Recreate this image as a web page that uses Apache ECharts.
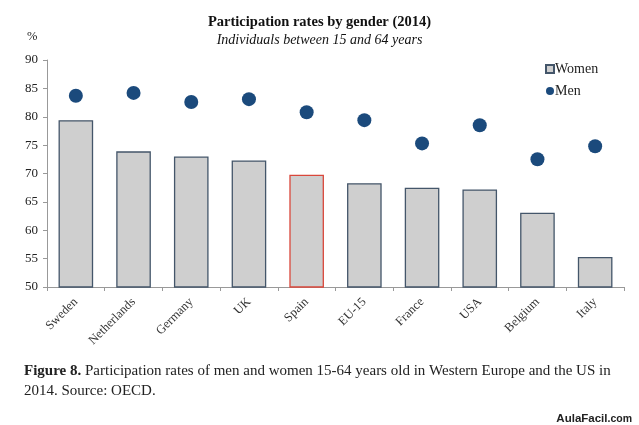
<!DOCTYPE html>
<html><head><meta charset="utf-8">
<script src="https://cdn.jsdelivr.net/npm/echarts@6/dist/echarts.min.js"></script>
<style>html,body{margin:0;padding:0;background:#fff}#c{width:639px;height:425px}</style>
</head><body><div id="c"></div>
<script>
const categories = ['Sweden','Netherlands','Germany','UK','Spain','EU-15','France','USA','Belgium','Italy'];
const women = [79.4, 73.9, 73.0, 72.3, 69.8, 68.3, 67.5, 67.2, 63.1, 55.3];
const men = [83.7, 84.2, 82.6, 83.1, 80.8, 79.4, 75.3, 78.5, 72.5, 74.8];
const yTicks = [50, 55, 60, 65, 70, 75, 80, 85, 90];
const highlight = 'Spain';

const serif = '"Liberation Serif", "DejaVu Serif", serif';
const chart = echarts.init(document.getElementById('c'));
chart.setOption({
  animation: false,
  backgroundColor: '#fff',
  title: [
    {text: 'Participation rates by gender (2014)', left: 'center', top: 10,
     textStyle: {fontFamily: serif, fontSize: 14.5, fontWeight: 'bold', color: '#111'}},
    {text: 'Individuals between 15 and 64 years', left: 'center', top: 28,
     textStyle: {fontFamily: serif, fontSize: 14, fontStyle: 'italic', fontWeight: 'normal', color: '#111'}},
    {text: '%', left: 22, top: 25, textStyle: {fontFamily: serif, fontSize: 12.5, fontWeight: 'normal', color: '#222'}},
    {text: '{b|Figure 8.} Participation rates of men and women 15-64 years old in Western Europe and the US in\n2014. Source: OECD.',
     left: 19, top: 356,
     textStyle: {fontFamily: serif, fontSize: 15, fontWeight: 'normal', color: '#222', lineHeight: 20,
       rich: {b: {fontFamily: serif, fontSize: 15, fontWeight: 'bold', color: '#222'}}}},
    {text: 'AulaFacil{s|.com}', right: 2, top: 408,
     textStyle: {fontFamily: '"Liberation Sans", sans-serif', fontSize: 11.5, fontWeight: 'bold', color: '#222',
       rich: {s: {fontFamily: '"Liberation Sans", sans-serif', fontSize: 10.5, fontWeight: 'bold', color: '#222'}}}}
  ],
  legend: {
    orient: 'vertical', left: 540, top: 57, itemGap: 8, itemWidth: 8, itemHeight: 8,
    textStyle: {fontFamily: serif, fontSize: 14, color: '#222', padding: [0, 0, 0, -4]},
    data: [{name: 'Women', icon: 'rect'}, {name: 'Men', icon: 'circle'}]
  },
  grid: {left: 47, right: 15, top: 60, bottom: 138},
  xAxis: {
    type: 'category', data: categories, boundaryGap: true,
    axisLine: {lineStyle: {color: '#999'}},
    axisTick: {show: true, length: 4, lineStyle: {color: '#999'}},
    axisLabel: {rotate: 45, margin: 13, fontFamily: serif, fontSize: 12.5, color: '#333', interval: 0}
  },
  yAxis: {
    type: 'value', min: 50, max: 90, interval: 5,
    splitLine: {show: false},
    axisLine: {show: true, lineStyle: {color: '#999'}},
    axisTick: {show: true, length: 4, lineStyle: {color: '#999'}},
    axisLabel: {fontFamily: serif, fontSize: 13, color: '#222', margin: 9,
      formatter: v => yTicks.includes(v) ? String(v) : ''}
  },
  series: [
    {name: 'Women', type: 'bar', barWidth: '60%',
     data: women.map((v, i) => categories[i] === highlight
       ? {value: v, itemStyle: {borderColor: '#d9473b'}} : v),
     itemStyle: {color: '#cfcfcf', borderColor: '#44566a', borderWidth: 1.3}},
    {name: 'Men', type: 'scatter', symbol: 'circle', symbolSize: 14, data: men,
     itemStyle: {color: '#1b4a7c', opacity: 1}}
  ]
});
</script></body></html>
